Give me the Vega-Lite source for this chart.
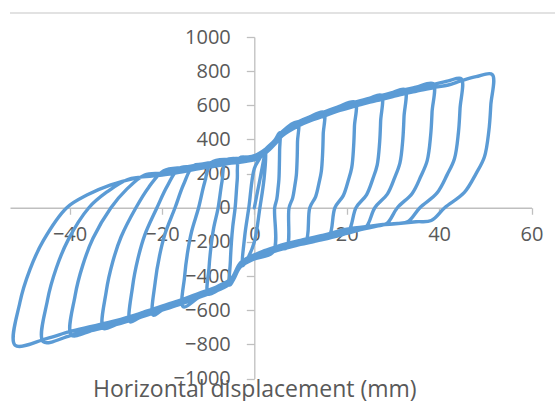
{
  "$schema": "https://vega.github.io/schema/vega-lite/v6.json",
  "width": 521.5,
  "height": 341.5,
  "autosize": "none",
  "padding": {"left": 10, "top": 37, "right": 23, "bottom": 22},
  "background": "#ffffff",
  "config": {
    "view": {"stroke": null},
    "font": "Open Sans",
    "axis": {"labelOverlap": false, "labelFlush": false, "grid": false, "format": "d"}
  },
  "resolve": {"axis": {"x": "independent", "y": "independent"}},
  "layer": [
    {
      "data": {"values": [
        {"d": 0, "f": 0}, {"d": 1.2, "f": 165}, {"d": 2.5, "f": 335}, {"d": 2.1, "f": 170}, {"d": 1.2, "f": 0}, {"d": 0, "f": -200}, {"d": -1.5, "f": -300}, {"d": -2.5, "f": -340}, {"d": -2.1, "f": -170}, {"d": -1.2, "f": 0}, {"d": 0, "f": 230}, {"d": 1.2, "f": 290},
        {"d": 2.5, "f": 345}, {"d": 4.4, "f": 395}, {"d": 5.5, "f": 440},
        {"d": 5.47, "f": 339}, {"d": 5.42, "f": 255}, {"d": 5.32, "f": 167}, {"d": 5.13, "f": 113}, {"d": 4.86, "f": 51}, {"d": 4.4, "f": 0}, {"d": 4.07, "f": -259},
        {"d": 0, "f": -300}, {"d": -3, "f": -346}, {"d": -5.3, "f": -453},
        {"d": -5.19, "f": -313}, {"d": -4.97, "f": -204}, {"d": -4.67, "f": -109}, {"d": -4.16, "f": 0}, {"d": -3.71, "f": 161}, {"d": -3.18, "f": 292},
        {"d": 0, "f": 293}, {"d": 2.5, "f": 333}, {"d": 4.4, "f": 383}, {"d": 6, "f": 445}, {"d": 9.4, "f": 502},
        {"d": 9.34, "f": 387}, {"d": 9.27, "f": 291}, {"d": 9.09, "f": 191}, {"d": 8.76, "f": 129}, {"d": 8.3, "f": 58}, {"d": 7.52, "f": 0}, {"d": 6.96, "f": -236},
        {"d": 5, "f": -238}, {"d": 0, "f": -288}, {"d": -3, "f": -334}, {"d": -5, "f": -428}, {"d": -8, "f": -485}, {"d": -10, "f": -505},
        {"d": -9.8, "f": -348}, {"d": -9.38, "f": -227}, {"d": -8.82, "f": -121}, {"d": -7.84, "f": 0}, {"d": -7, "f": 154}, {"d": -6, "f": 280},
        {"d": 0, "f": 281}, {"d": 2.5, "f": 321}, {"d": 4.4, "f": 371}, {"d": 6, "f": 421}, {"d": 9.4, "f": 490}, {"d": 12, "f": 532}, {"d": 15, "f": 560},
        {"d": 14.91, "f": 431}, {"d": 14.79, "f": 325}, {"d": 14.5, "f": 213}, {"d": 13.98, "f": 143}, {"d": 13.25, "f": 64}, {"d": 12, "f": 0}, {"d": 11.1, "f": -200},
        {"d": 9, "f": -215}, {"d": 5, "f": -230}, {"d": 0, "f": -276}, {"d": -3, "f": -322}, {"d": -5, "f": -416}, {"d": -8, "f": -461}, {"d": -12, "f": -525}, {"d": -15.4, "f": -580},
        {"d": -15.09, "f": -400}, {"d": -14.45, "f": -261}, {"d": -13.58, "f": -139}, {"d": -12.07, "f": 0}, {"d": -10.78, "f": 146}, {"d": -9.24, "f": 266},
        {"d": -5, "f": 285}, {"d": 0, "f": 305}, {"d": 2.5, "f": 345}, {"d": 4.4, "f": 395}, {"d": 6, "f": 445}, {"d": 9.4, "f": 502}, {"d": 12, "f": 532}, {"d": 15, "f": 560}, {"d": 18, "f": 590}, {"d": 21.8, "f": 619},
        {"d": 21.67, "f": 477}, {"d": 21.49, "f": 359}, {"d": 21.08, "f": 235}, {"d": 20.32, "f": 158}, {"d": 19.25, "f": 71}, {"d": 17.44, "f": 0}, {"d": 16.2, "f": -165},
        {"d": 14, "f": -190}, {"d": 10, "f": -215}, {"d": 5, "f": -250}, {"d": 0, "f": -300}, {"d": -3, "f": -346}, {"d": -5, "f": -440}, {"d": -8, "f": -485}, {"d": -12, "f": -525}, {"d": -16, "f": -565}, {"d": -20, "f": -600}, {"d": -21.9, "f": -629},
        {"d": -21.46, "f": -434}, {"d": -20.54, "f": -283}, {"d": -19.32, "f": -151}, {"d": -17.17, "f": 0}, {"d": -15.33, "f": 136}, {"d": -13.14, "f": 247},
        {"d": -10, "f": 250}, {"d": -5, "f": 273}, {"d": 0, "f": 293}, {"d": 2.5, "f": 333}, {"d": 4.4, "f": 383}, {"d": 6, "f": 433}, {"d": 9.4, "f": 490}, {"d": 12, "f": 520}, {"d": 15, "f": 548}, {"d": 18, "f": 578}, {"d": 21.8, "f": 613}, {"d": 25, "f": 642}, {"d": 27.5, "f": 658},
        {"d": 27.34, "f": 507}, {"d": 27.12, "f": 382}, {"d": 26.59, "f": 250}, {"d": 25.63, "f": 168}, {"d": 24.28, "f": 76}, {"d": 22, "f": 0}, {"d": 20.4, "f": -135},
        {"d": 18, "f": -158}, {"d": 15, "f": -173}, {"d": 10, "f": -203}, {"d": 5, "f": -238}, {"d": 0, "f": -288}, {"d": -3, "f": -334}, {"d": -5, "f": -428}, {"d": -8, "f": -473}, {"d": -12, "f": -513}, {"d": -16, "f": -553}, {"d": -20, "f": -588}, {"d": -25, "f": -645}, {"d": -26.9, "f": -668},
        {"d": -26.36, "f": -461}, {"d": -25.23, "f": -301}, {"d": -23.73, "f": -160}, {"d": -21.09, "f": 0}, {"d": -18.83, "f": 128}, {"d": -16.14, "f": 233},
        {"d": -10, "f": 238}, {"d": -5, "f": 261}, {"d": 0, "f": 281}, {"d": 2.5, "f": 321}, {"d": 4.4, "f": 371}, {"d": 6, "f": 421}, {"d": 9.4, "f": 478}, {"d": 12, "f": 508}, {"d": 15, "f": 536}, {"d": 18, "f": 566}, {"d": 21.8, "f": 595}, {"d": 25, "f": 618}, {"d": 27.5, "f": 646}, {"d": 30, "f": 675}, {"d": 32.6, "f": 692},
        {"d": 32.4, "f": 533}, {"d": 32.14, "f": 401}, {"d": 31.52, "f": 263}, {"d": 30.38, "f": 177}, {"d": 28.79, "f": 80}, {"d": 26.08, "f": 0}, {"d": 24.2, "f": -110},
        {"d": 22, "f": -122}, {"d": 20, "f": -130}, {"d": 15, "f": -161}, {"d": 10, "f": -191}, {"d": 5, "f": -226}, {"d": 0, "f": -276}, {"d": -3, "f": -322}, {"d": -5, "f": -416}, {"d": -8, "f": -461}, {"d": -12, "f": -501}, {"d": -16, "f": -541}, {"d": -20, "f": -576}, {"d": -25, "f": -621}, {"d": -30, "f": -685}, {"d": -32.7, "f": -707},
        {"d": -32.05, "f": -488}, {"d": -30.67, "f": -318}, {"d": -28.84, "f": -170}, {"d": -25.64, "f": 0}, {"d": -22.89, "f": 119}, {"d": -19.62, "f": 217},
        {"d": -15, "f": 238}, {"d": -10, "f": 262}, {"d": -5, "f": 285}, {"d": 0, "f": 305}, {"d": 2.5, "f": 345}, {"d": 4.4, "f": 395}, {"d": 6, "f": 445}, {"d": 9.4, "f": 502}, {"d": 12, "f": 532}, {"d": 15, "f": 560}, {"d": 18, "f": 590}, {"d": 21.8, "f": 619}, {"d": 25, "f": 642}, {"d": 27.5, "f": 658}, {"d": 30, "f": 675}, {"d": 32.6, "f": 692}, {"d": 35, "f": 706}, {"d": 38.7, "f": 727},
        {"d": 38.47, "f": 560}, {"d": 38.16, "f": 422}, {"d": 37.42, "f": 276}, {"d": 36.07, "f": 186}, {"d": 34.17, "f": 84}, {"d": 30.96, "f": 0}, {"d": 28.7, "f": -92},
        {"d": 26.5, "f": -108}, {"d": 23, "f": -128}, {"d": 20, "f": -150}, {"d": 15, "f": -185}, {"d": 10, "f": -215}, {"d": 5, "f": -250}, {"d": 0, "f": -300}, {"d": -3, "f": -346}, {"d": -5, "f": -440}, {"d": -8, "f": -485}, {"d": -12, "f": -525}, {"d": -16, "f": -565}, {"d": -20, "f": -600}, {"d": -25, "f": -645}, {"d": -30, "f": -685}, {"d": -35, "f": -718}, {"d": -39.6, "f": -746},
        {"d": -38.81, "f": -515}, {"d": -37.14, "f": -336}, {"d": -34.93, "f": -179}, {"d": -31.05, "f": 0}, {"d": -27.72, "f": 106}, {"d": -23.76, "f": 192},
        {"d": -20, "f": 203}, {"d": -15, "f": 226}, {"d": -10, "f": 250}, {"d": -5, "f": 273}, {"d": 0, "f": 293}, {"d": 2.5, "f": 333}, {"d": 4.4, "f": 383}, {"d": 6, "f": 433}, {"d": 9.4, "f": 490}, {"d": 12, "f": 520}, {"d": 15, "f": 548}, {"d": 18, "f": 578}, {"d": 21.8, "f": 607}, {"d": 25, "f": 630}, {"d": 27.5, "f": 646}, {"d": 30, "f": 663}, {"d": 32.6, "f": 680}, {"d": 35, "f": 694}, {"d": 38.7, "f": 721}, {"d": 42, "f": 743}, {"d": 44.8, "f": 756},
        {"d": 44.53, "f": 582}, {"d": 44.17, "f": 438}, {"d": 43.32, "f": 287}, {"d": 41.75, "f": 194}, {"d": 39.56, "f": 87}, {"d": 35.84, "f": 0}, {"d": 33.3, "f": -80},
        {"d": 31, "f": -92}, {"d": 27, "f": -100}, {"d": 23, "f": -118}, {"d": 20, "f": -138}, {"d": 15, "f": -173}, {"d": 10, "f": -203}, {"d": 5, "f": -238}, {"d": 0, "f": -288}, {"d": -3, "f": -334}, {"d": -5, "f": -428}, {"d": -8, "f": -473}, {"d": -12, "f": -513}, {"d": -16, "f": -553}, {"d": -20, "f": -588}, {"d": -25, "f": -633}, {"d": -30, "f": -673}, {"d": -35, "f": -706}, {"d": -40, "f": -750}, {"d": -45.7, "f": -785},
        {"d": -44.79, "f": -542}, {"d": -42.87, "f": -353}, {"d": -40.31, "f": -188}, {"d": -35.83, "f": 0}, {"d": -31.99, "f": 91}, {"d": -27.42, "f": 165},
        {"d": -20, "f": 191}, {"d": -15, "f": 214}, {"d": -10, "f": 238}, {"d": -5, "f": 261}, {"d": 0, "f": 281}, {"d": 2.5, "f": 321}, {"d": 4.4, "f": 371}, {"d": 6, "f": 421}, {"d": 9.4, "f": 478}, {"d": 12, "f": 508}, {"d": 15, "f": 536}, {"d": 18, "f": 566}, {"d": 21.8, "f": 595}, {"d": 25, "f": 618}, {"d": 27.5, "f": 634}, {"d": 30, "f": 651}, {"d": 32.6, "f": 668}, {"d": 35, "f": 682}, {"d": 38.7, "f": 703}, {"d": 42, "f": 719}, {"d": 44.8, "f": 744}, {"d": 48, "f": 768}, {"d": 51.5, "f": 781},
        {"d": 51.19, "f": 601}, {"d": 50.78, "f": 453}, {"d": 49.8, "f": 297}, {"d": 48, "f": 200}, {"d": 45.47, "f": 90}, {"d": 41.2, "f": 0}, {"d": 38.3, "f": -75},
        {"d": 35, "f": -82}, {"d": 30, "f": -95}, {"d": 25, "f": -108}, {"d": 20, "f": -126}, {"d": 15, "f": -161}, {"d": 10, "f": -191}, {"d": 5, "f": -226}, {"d": 0, "f": -276}, {"d": -3, "f": -322}, {"d": -5, "f": -416}, {"d": -8, "f": -461}, {"d": -12, "f": -501}, {"d": -16, "f": -541}, {"d": -20, "f": -576}, {"d": -25, "f": -621}, {"d": -30, "f": -661}, {"d": -35, "f": -694}, {"d": -40, "f": -726}, {"d": -45, "f": -766}, {"d": -51.8, "f": -805},
        {"d": -50.76, "f": -555}, {"d": -48.59, "f": -362}, {"d": -45.69, "f": -193}, {"d": -40.61, "f": 0}, {"d": -36.26, "f": 74}, {"d": -31.08, "f": 134}, {"d": -25, "f": 178}
      ]},
      "mark": {"type": "line", "color": "#5B9BD5", "strokeWidth": 3.4, "interpolate": "catmull-rom", "strokeJoin": "round", "strokeCap": "round"},
      "encoding": {
        "x": {
          "field": "d", "type": "quantitative",
          "scale": {"domain": [-52.9, 60], "nice": false, "zero": false},
          "axis": {
            "orient": "bottom", "offset": -170.75, "values": [-40, -20, 0, 20, 40, 60], "grid": false, "format": "d",
            "domainColor": "#BFBFBF", "domainWidth": 1.3, "tickColor": "#BFBFBF", "tickWidth": 1.3, "tickSize": 6.5,
            "labelColor": "#595959", "labelFont": "Open Sans", "labelFontSize": 20, "labelPadding": 10,
            "labelFlush": false, "labelOverlap": false,
            "title": "Horizontal displacement (mm)", "titleFont": "Open Sans", "titleFontSize": 23, "titleFontWeight": "normal",
            "titleColor": "#595959", "titleX": 244.3, "titleY": 189, "titleAlign": "center", "titleBaseline": "alphabetic"
          }
        },
        "y": {
          "field": "f", "type": "quantitative",
          "scale": {"domain": [-1000, 1000], "nice": false},
          "axis": {
            "orient": "left", "offset": -244.3, "values": [-1000, -800, -600, -400, -200, 0, 200, 400, 600, 800, 1000], "grid": false, "format": "d",
            "domainColor": "#BFBFBF", "domainWidth": 1.3, "tickColor": "#BFBFBF", "tickWidth": 1.3, "tickSize": 8,
            "labelColor": "#595959", "labelFont": "Open Sans", "labelFontSize": 20, "labelPadding": 16,
            "labelFlush": false, "labelOverlap": false, "title": null
          }
        },
        "order": {"value": null}
      }
    },
    {
      "data": {"values": [{"x0": -52.9, "x1": 65.1, "y": 1140.6}]},
      "mark": {"type": "rule", "color": "#D9D9D9", "strokeWidth": 1.3, "clip": false},
      "encoding": {
        "x": {"field": "x0", "type": "quantitative", "axis": null},
        "x2": {"field": "x1"},
        "y": {"field": "y", "type": "quantitative", "axis": null}
      }
    }
  ]
}
